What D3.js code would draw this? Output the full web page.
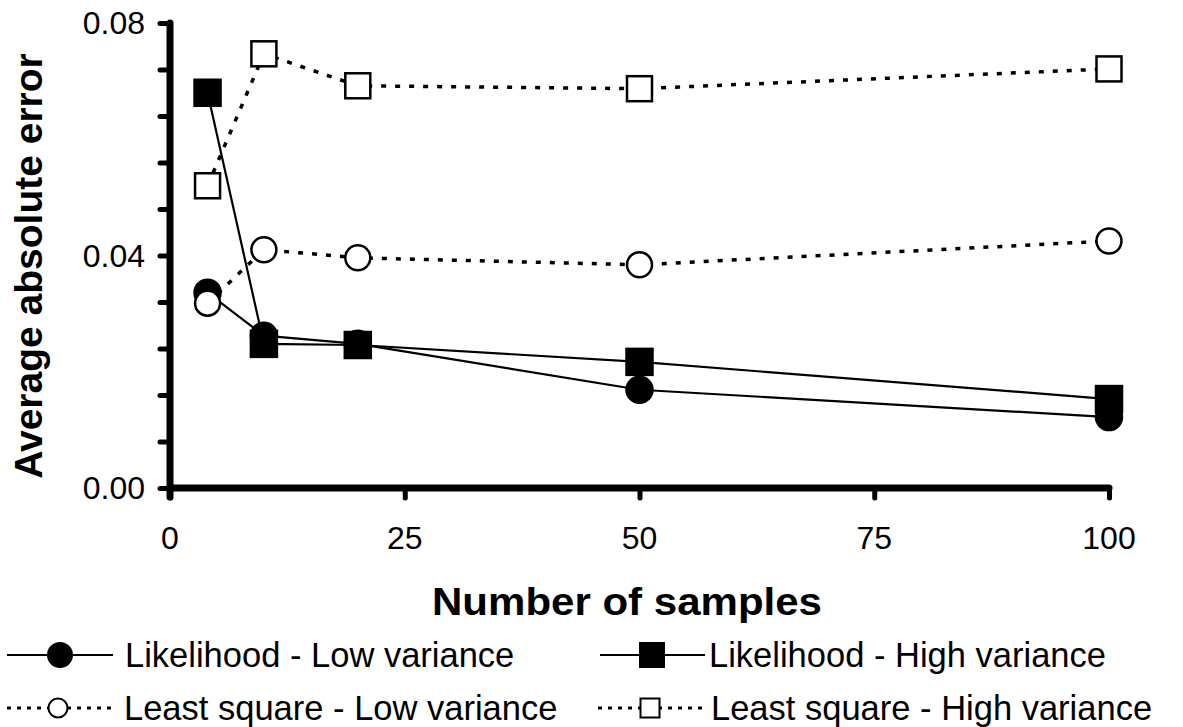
<!DOCTYPE html>
<html>
<head>
<meta charset="utf-8">
<script src="https://cdn.jsdelivr.net/npm/d3@7"></script>
<style>
  html, body { margin: 0; padding: 0; background: #fff; }
  text { font-family: "Liberation Sans", Arimo, Arial, sans-serif; fill: #000; }
</style>
</head>
<body>
<svg id="chart" width="1183" height="727"></svg>
<script>
const samples = [4, 10, 20, 50, 100];
const likelihoodLow = [0.0336, 0.0262, 0.0248, 0.0169, 0.0122];
const likelihoodHigh = [0.0680, 0.0248, 0.0246, 0.0217, 0.0153];
const leastSquareLow = [0.0318, 0.0410, 0.0396, 0.0384, 0.0425];
const leastSquareHigh = [0.0520, 0.0747, 0.0692, 0.0687, 0.0721];
const seriesNames = ["Likelihood - Low variance", "Likelihood - High variance",
                     "Least square - Low variance", "Least square - High variance"];
const xTicks = [0, 25, 50, 75, 100];
const yTickLabels = [0, 0.04, 0.08];
const yMinorTicks = d3.range(0, 0.0801, 0.008);

const series = [
  { name: seriesNames[0], values: likelihoodLow, shape: "circle", filled: true, dotted: false },
  { name: seriesNames[1], values: likelihoodHigh, shape: "square", filled: true, dotted: false },
  { name: seriesNames[2], values: leastSquareLow, shape: "circle", filled: false, dotted: true },
  { name: seriesNames[3], values: leastSquareHigh, shape: "square", filled: false, dotted: true }
];

const svg = d3.select("#chart");
const x = d3.scaleLinear().domain([0, 100]).range([170, 1109]);
const y = d3.scaleLinear().domain([0, 0.08]).range([488, 23]);

const line = d3.line().x(d => x(d[0])).y(d => y(d[1]));
function drawMarker(g, shape, filled, cx, cy, size, sw) {
  if (shape === "circle") {
    g.append("circle").attr("cx", cx).attr("cy", cy).attr("r", size / 2)
      .attr("fill", filled ? "#000" : "#fff").attr("stroke", "#000").attr("stroke-width", sw);
  } else {
    g.append("rect").attr("x", cx - size / 2).attr("y", cy - size / 2)
      .attr("width", size).attr("height", size)
      .attr("fill", filled ? "#000" : "#fff").attr("stroke", "#000").attr("stroke-width", sw);
  }
}

series.forEach(s => {
  const g = svg.append("g");
  const pts = samples.map((v, i) => [v, s.values[i]]);
  g.append("path").attr("d", line(pts)).attr("fill", "none").attr("stroke", "#000")
    .attr("stroke-width", s.dotted ? 3.5 : 2.2)
    .attr("stroke-dasharray", s.dotted ? "5,9" : null);
  pts.forEach(p => drawMarker(g, s.shape, s.filled, x(p[0]), y(p[1]), s.filled ? 26 : 25, 2.5));
});

// Axes
const yAxisG = svg.append("g").attr("transform", "translate(170,0)");
yAxisG.call(d3.axisLeft(y).tickValues(yMinorTicks).tickSize(10).tickFormat(""));
const xAxisG = svg.append("g").attr("transform", "translate(0,488)");
xAxisG.call(d3.axisBottom(x).tickValues(xTicks).tickSize(10).tickFormat(""));
[yAxisG, xAxisG].forEach(g => {
  g.select(".domain").remove();
  g.selectAll(".tick line").style("stroke", "#000").style("stroke-width", "5px").style("stroke-linecap", "round");
});
svg.append("line").attr("x1", 170).attr("x2", 170).attr("y1", y(0.08)).attr("y2", 497)
  .attr("stroke", "#000").attr("stroke-width", 7).attr("stroke-linecap", "round");
svg.append("line").attr("x1", 170).attr("x2", x(100)).attr("y1", y(0)).attr("y2", y(0))
  .attr("stroke", "#000").attr("stroke-width", 7).attr("stroke-linecap", "round");

// Tick labels
svg.append("g").selectAll("text").data(yTickLabels).join("text")
  .attr("x", 145).attr("y", d => y(d) + 11).attr("text-anchor", "end")
  .attr("font-size", 32).text(d => d3.format(".2f")(d));
svg.append("g").selectAll("text").data(xTicks).join("text")
  .attr("x", d => x(d)).attr("y", 549).attr("text-anchor", "middle")
  .attr("font-size", 32).text(d => d);

// Axis titles
svg.append("text").attr("x", 627).attr("y", 615).attr("text-anchor", "middle")
  .attr("font-size", 39).attr("font-weight", "bold")
  .attr("textLength", 390).attr("lengthAdjust", "spacingAndGlyphs")
  .text("Number of samples");
svg.append("text").attr("transform", "translate(42,266) rotate(-90)")
  .attr("text-anchor", "middle").attr("font-size", 39).attr("font-weight", "bold")
  .text("Average absolute error");

// Legend
const legendPos = [
  { lx1: 7, lx2: 113, mx: 60, ty: 655, tx: 125 },
  { lx1: 600, lx2: 705, mx: 652, ty: 655, tx: 709 },
  { lx1: 7, lx2: 113, mx: 58, ty: 708, tx: 124 },
  { lx1: 598, lx2: 703, mx: 650, ty: 708, tx: 711 }
];
series.forEach((s, i) => {
  const p = legendPos[i];
  const g = svg.append("g");
  g.append("line").attr("x1", p.lx1).attr("x2", p.lx2).attr("y1", p.ty).attr("y2", p.ty)
    .attr("stroke", "#000").attr("stroke-width", s.dotted ? 3 : 2.2)
    .attr("stroke-dasharray", s.dotted ? "4,6" : null);
  drawMarker(g, s.shape, s.filled, p.mx, p.ty, s.filled ? 24 : 19, 2);
  g.append("text").attr("x", p.tx).attr("y", p.ty + 12).attr("font-size", 34.5).text(s.name);
});
</script>
</body>
</html>
